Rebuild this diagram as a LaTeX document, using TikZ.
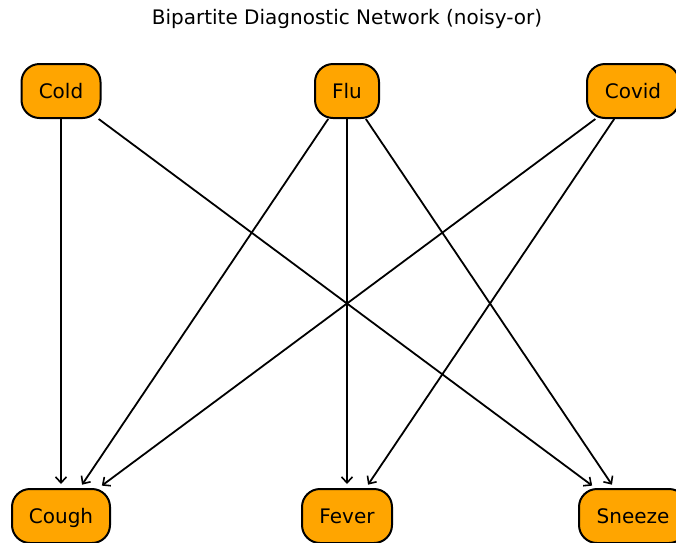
\documentclass[tikz,border=0pt]{standalone}
\usepackage{fontspec}
\setmainfont{DejaVu Sans}
\usetikzlibrary{arrows.meta}
\definecolor{nodeorange}{RGB}{255,165,0}
\begin{document}
\begin{tikzpicture}[x=1pt,y=-1pt,
  vnode/.style={draw=black, line width=2pt, fill=nodeorange,
    rounded corners=18pt, minimum height=54pt, inner sep=0pt, text height=14.5pt, text depth=0pt, font=\fontsize{20}{22}\selectfont},
  edge/.style={line width=1.8pt, -{Straight Barb[length=6pt,width=11pt,line width=1.6pt]}, shorten >=4pt, shorten <=0pt}]
\useasboundingbox (0,0) rectangle (676,542);
\node[font=\fontsize{20}{22}\selectfont] (title) at (347,19) {Bipartite Diagnostic Network (noisy-or)};
\node[vnode, minimum width=79pt] (cold) at (61,91) {Cold};
\node[vnode, minimum width=64pt] (flu) at (347,91) {Flu};
\node[vnode, minimum width=92pt] (covid) at (633,91) {Covid};
\node[vnode, minimum width=98pt] (cough) at (61,516) {Cough};
\node[vnode, minimum width=90pt] (fever) at (347,516) {Fever};
\node[vnode, minimum width=108pt] (sneeze) at (633,516) {Sneeze};
\draw[edge] (cold) -- (cough);
\draw[edge] (cold) -- (sneeze);
\draw[edge] (flu) -- (cough);
\draw[edge] (flu) -- (fever);
\draw[edge] (flu) -- (sneeze);
\draw[edge] (covid) -- (cough);
\draw[edge] (covid) -- (fever);
\end{tikzpicture}
\end{document}
